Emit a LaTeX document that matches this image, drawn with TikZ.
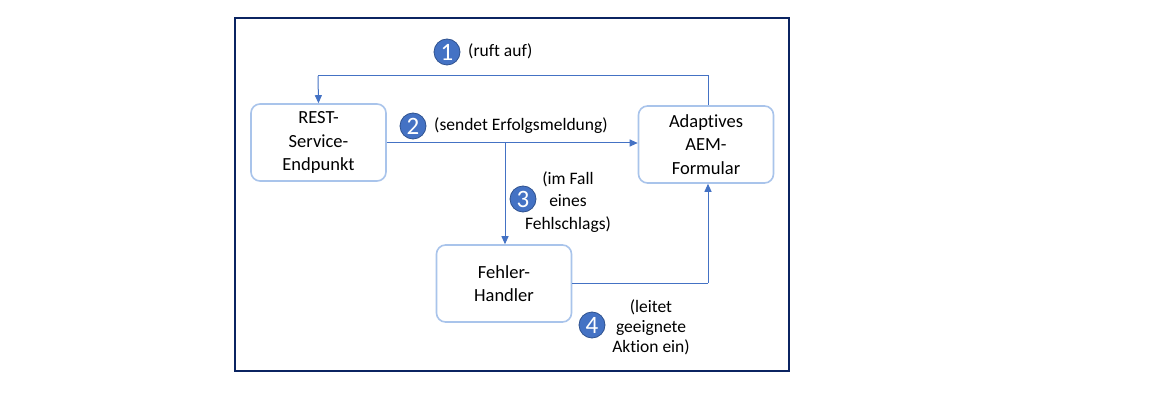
\documentclass[tikz,border=0pt]{standalone}
\usepackage{fontspec}
\setmainfont{Carlito}[Ligatures=CommonOff]
\usetikzlibrary{arrows.meta}
\definecolor{frame}{HTML}{0B2461}
\definecolor{boxline}{HTML}{A9C4EB}
\definecolor{arrowc}{HTML}{4472C4}
\definecolor{badge}{HTML}{4472C4}
\definecolor{badgeline}{HTML}{2F528F}
\tikzset{
  x=1pt, y=-1pt,
  proc/.style={draw=boxline, line width=1.6pt, rounded corners=9pt, fill=white,
    minimum width=135pt, minimum height=77pt, align=center, inner sep=0pt,
    font=\fontsize{18.5}{23.5}\selectfont, text=black},
  conn/.style={draw=arrowc, line width=1pt, -{Triangle[width=7pt,length=8pt]}},
  plainconn/.style={draw=arrowc, line width=1pt},
  num/.style={circle, fill=badge, draw=badgeline, line width=0.8pt, minimum size=26pt,
    inner sep=0pt, text=white, font=\fontsize{25}{25}\selectfont},
  lbl/.style={font=\fontsize{17.5}{20}\selectfont, align=center, inner sep=0pt, text=black}
}
\begin{document}
\begin{tikzpicture}
\useasboundingbox (0,0) rectangle (1152,401);
\fill[white] (0,0) rectangle (1152,401);
\draw[frame, line width=2.6pt] (235,18) rectangle (789,371);

\node[proc] (rest) at (318.5,142.5) {REST-\\Service-\\Endpunkt};
\node[proc] (aem) at (706,144.5) {Adaptives\\AEM-\\Formular};
\node[proc] (err) at (504,283.5) {Fehler-\\Handler};

\coordinate (c1a) at (708,76);
\coordinate (c1b) at (318,76);
\coordinate (c3) at (505,143);
\coordinate (c4) at (708,283);

\draw[plainconn] (aem.north -| c1a) -- (c1a) -- (c1b);
\draw[conn] (c1b) -- (rest.north);
\draw[conn] (rest.east |- c3) -- (aem.west |- c3);
\draw[conn] (c3) -- (err.north -| c3);
\draw[plainconn] (err.east |- c4) -- (c4);
\draw[conn] (c4) -- (aem.south -| c4);

\node[num] (n1) at (447,52) {1};
\node[lbl, anchor=west] (l1) at (468,51) {(ruft auf)};
\node[num] (n2) at (413,126) {2};
\node[lbl, anchor=west] (l2) at (434,126) {(sendet Erfolgsmeldung)};
\node[num] (n3) at (523,199) {3};
\node[lbl, font=\fontsize{17.5}{22.5}\selectfont] (l3) at (568,202) {(im Fall\\eines\\Fehlschlags)};
\node[num] (n4) at (592,325) {4};
\node[lbl] (l4) at (651,327) {(leitet\\geeignete\\Aktion ein)};
\end{tikzpicture}
\end{document}
